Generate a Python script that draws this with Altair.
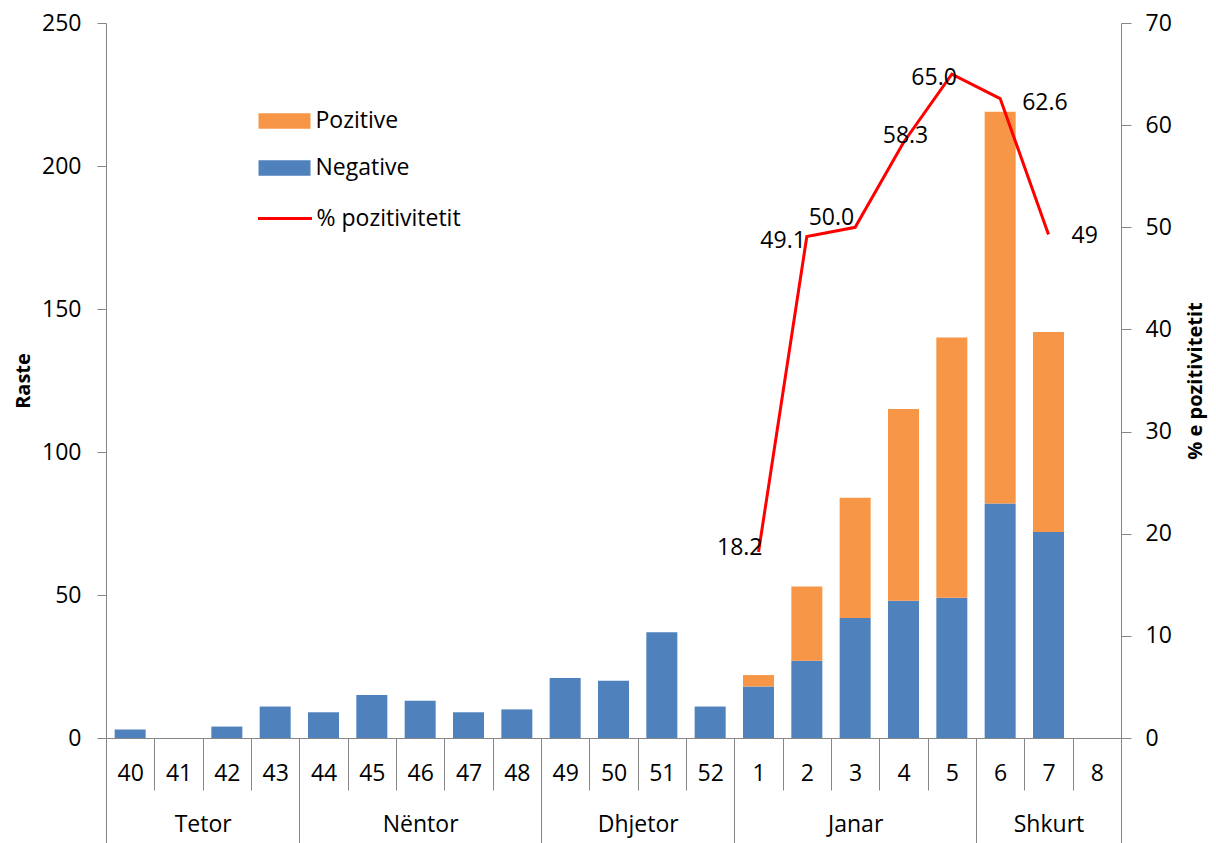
import json
import altair as alt
import pandas as pd

# ---------------- data ----------------
weeks = ["40", "41", "42", "43", "44", "45", "46", "47", "48", "49", "50",
         "51", "52", "1", "2", "3", "4", "5", "6", "7", "8"]
negative = [3, 0, 4, 11, 9, 15, 13, 9, 10, 21, 20, 37, 11, 18, 27, 42, 48, 49, 82, 72, 0]
positive = [0, 0, 0, 0, 0, 0, 0, 0, 0, 0, 0, 0, 0, 4, 26, 42, 67, 91, 137, 70, 0]
pct_weeks = ["1", "2", "3", "4", "5", "6", "7"]
pct_values = [18.2, 49.1, 50.0, 58.3, 65.0, 62.6, 49.3]
pct_labels = ["18.2", "49.1", "50.0", "58.3", "65.0", "62.6", "49"]
months = ["Tetor", "Nëntor", "Dhjetor", "Janar", "Shkurt"]
month_week_counts = [4, 5, 4, 5, 3]

# ---------------- tables ----------------
rows = []
for i, w in enumerate(weeks):
    rows.append({"idx": i, "week": w, "type": "Negative", "ord": 0, "count": negative[i]})
    rows.append({"idx": i, "week": w, "type": "Pozitive", "ord": 1, "count": positive[i]})
bars_df = pd.DataFrame(rows)

line_df = pd.DataFrame({
    "idx": [weeks.index(w) for w in pct_weeks],
    "week": pct_weeks,
    "pct": pct_values,
    "label": pct_labels,
})

n = len(weeks)
boundaries = [i - 0.5 for i in range(n + 1)]
month_bounds = [-0.5]
month_centers = []
start = 0
for c in month_week_counts:
    month_centers.append(start + (c - 1) / 2)
    start += c
    month_bounds.append(start - 0.5)

FONT = "Open Sans"
AX = "#868686"
xscale = alt.Scale(domain=[-0.5, n - 0.5], nice=False, zero=False, padding=0)
yleft = alt.Scale(domain=[0, 250], nice=False)
yright = alt.Scale(domain=[0, 70], nice=False)

week_axis = alt.Axis(
    orient="bottom", values=boundaries, title=None, grid=False,
    tickSize=52, tickColor=AX, domainColor=AX,
    labelExpr=f"{json.dumps(weeks + [''])}[round(datum.value + 0.5)]",
    labelOffset=24.2, labelPadding=-17, labelBaseline="middle",
    labelOverlap=False, labelBound=False, labelFlush=False,
    labelFontSize=23, labelFont=FONT, labelColor="#000",
)
month_tick_axis = alt.Axis(
    orient="bottom", values=month_bounds, title=None, grid=False,
    tickSize=105, tickColor=AX, domain=False, labels=False,
)
month_label_axis = alt.Axis(
    orient="bottom", values=month_centers, title=None, grid=False,
    ticks=False, tickSize=0, domain=False,
    labelExpr=f"{json.dumps(months)}[indexof({json.dumps(month_centers)}, datum.value)]",
    labelPadding=86, labelBaseline="middle",
    labelOverlap=False, labelBound=False, labelFlush=False,
    labelFontSize=23, labelFont=FONT, labelColor="#000",
)

bars = alt.Chart(bars_df).mark_bar(size=31).encode(
    x=alt.X("idx:Q", scale=xscale, axis=week_axis),
    y=alt.Y("count:Q", stack="zero", scale=yleft,
            axis=alt.Axis(orient="left", values=[0, 50, 100, 150, 200, 250], title="Raste",
                          grid=False, tickSize=9, tickColor=AX, domainColor=AX,
                          labelPadding=16, labelFontSize=23, labelFont=FONT, labelColor="#000",
                          titleFont=FONT, titleFontSize=20, titleFontWeight="bold",
                          titleColor="#000", titlePadding=8)),
    color=alt.Color("type:N",
                    scale=alt.Scale(domain=["Pozitive", "Negative"], range=["#F79646", "#4F81BD"]),
                    legend=alt.Legend(orient="none", legendX=152.5, legendY=72, title=None,
                                      symbolType="M-1,-0.3H1V0.3H-1Z", symbolSize=2704,
                                      symbolStrokeWidth=0, labelOffset=5, rowPadding=9,
                                      padding=0, labelFontSize=23, labelFont=FONT,
                                      labelColor="#000")),
    order=alt.Order("ord:Q"),
)

line = alt.Chart(line_df).transform_calculate(series="'% pozitivitetit'").mark_line(strokeWidth=3).encode(
    x=alt.X("idx:Q", scale=xscale, axis=month_tick_axis),
    y=alt.Y("pct:Q", scale=yright,
            axis=alt.Axis(orient="right", values=list(range(0, 71, 10)), title="% e pozitivitetit",
                          grid=False, tickSize=10, tickColor=AX, domainColor=AX,
                          labelPadding=14, labelFontSize=23, labelFont=FONT, labelColor="#000",
                          titleFont=FONT, titleFontSize=20, titleFontWeight="bold",
                          titleColor="#000", titleAngle=270, titleBaseline="top",
                          titlePadding=14)),
    stroke=alt.Stroke("series:N", scale=alt.Scale(domain=["% pozitivitetit"], range=["#FF0000"]),
                      legend=alt.Legend(orient="none", legendX=150.5, legendY=167, title=None,
                                        symbolType="stroke", symbolSize=2916,
                                        symbolStrokeWidth=3, labelOffset=3, padding=0,
                                        labelFontSize=23, labelFont=FONT, labelColor="#000")),
)

month_labels_layer = alt.Chart(line_df).mark_point(opacity=0).encode(
    x=alt.X("idx:Q", scale=xscale, axis=month_label_axis),
    y=alt.Y("pct:Q", scale=yright, axis=None),
)


def pct_label(week, align, dx, dy):
    return alt.Chart(line_df).transform_filter(alt.datum.week == week).mark_text(
        align=align, baseline="middle", dx=dx, dy=dy, font=FONT, fontSize=23, color="#000"
    ).encode(
        x=alt.X("idx:Q", scale=xscale, axis=None),
        y=alt.Y("pct:Q", scale=yright, axis=None),
        text="label:N",
    )


labels = [
    pct_label("1", "right", 4, -4),
    pct_label("2", "right", -1, 5),
    pct_label("3", "right", -1, -9),
    pct_label("4", "center", 2, -7),
    pct_label("5", "right", 5, 4),
    pct_label("6", "left", 22, 4),
    pct_label("7", "left", 23, 2),
]

chart = alt.layer(bars, line, month_labels_layer, *labels).resolve_scale(
    y="independent"
).resolve_axis(
    x="independent", y="independent"
).properties(
    width=1015, height=715,
    autosize=alt.AutoSizeParams(type="none"),
    padding={"left": 98, "top": 15, "right": 87, "bottom": 105},
).configure_view(stroke=None)

chart.save("out.html", embed_options={"renderer": "svg", "actions": False})
